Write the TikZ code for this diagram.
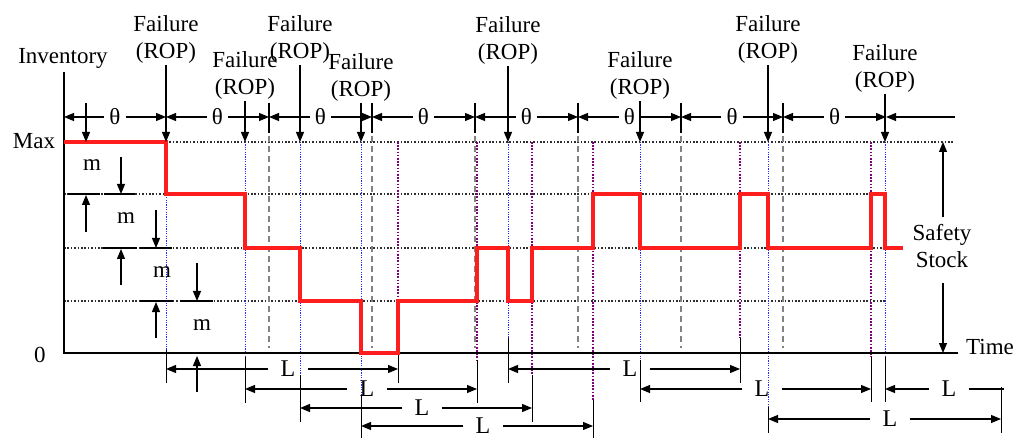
\documentclass[tikz,border=0pt]{standalone}
\usepackage{fontspec}
\setmainfont{Liberation Serif}
\usetikzlibrary{arrows.meta}

\definecolor{stockred}{RGB}{255,30,30}
\definecolor{ropblue}{RGB}{40,40,255}
\definecolor{arrpurple}{RGB}{125,0,125}
\definecolor{griddot}{RGB}{45,45,45}
\definecolor{periodgray}{RGB}{130,130,130}

\begin{document}
\begin{tikzpicture}[x=1pt,y=-1pt,
  levelline/.style={griddot, line width=1.6pt, dash pattern=on 1.6pt off 1.8pt},
  periodline/.style={periodgray, line width=1.1pt, dash pattern=on 6pt off 4pt},
  ropline/.style={ropblue, line width=1pt, dash pattern=on 1.2pt off 1.2pt},
  arrline/.style={arrpurple, line width=1.7pt, dash pattern=on 1.7pt off 1.5pt},
  extline/.style={black, line width=1pt},
  axisline/.style={black, line width=2.6pt},
  stockline/.style={stockred, line width=4pt},
  dimline/.style={black, line width=1.1pt},
  dimarrow/.style={dimline, -{Triangle[length=10pt,width=8pt]}},
  txt/.style={font=\fontsize{23}{27}\selectfont, inner sep=1pt, align=center},
  gaplabel/.style={txt, inner sep=0pt, inner xsep=5pt},
  leadlabel/.style={font=\fontsize{24}{28}\selectfont, inner sep=0pt, inner xsep=12pt}]

\useasboundingbox (0,0) rectangle (1017,438);

% inventory levels Max, Max-m, Max-2m, Max-3m
\draw[levelline] (166,142) -- (953,142);
\draw[levelline] (64,194) -- (885,194);
\draw[levelline] (64,248) -- (883,248);
\draw[levelline] (64,301) -- (885,301);

% review period boundaries
\foreach \x in {269,372,475,578,681,783} {
  \draw[periodline] (\x,136) -- (\x,348);
  \draw[dimline] (\x,103) -- (\x,133);
}

% reorder instants (blue) with their extension lines
\foreach \x/\e/\f in {166/350/383, 245/357/403, 300/375/422, 361/395/438,
                      508/338/383, 640/360/402, 768/407/433, 885/357/402} {
  \draw[ropline] (\x,142) -- (\x,\e);
  \draw[extline] (\x,\e) -- (\x,\f);
}
% order receipts (purple) with their extension lines
\foreach \x/\e/\f in {398/353/383, 477/360/403, 532/375/422, 593/400/438,
                      740/338/383, 871/357/402} {
  \draw[arrline] (\x,142) -- (\x,\e);
  \draw[extline] (\x,\e) -- (\x,\f);
}
\draw[extline] (1001,387) -- (1001,433);

% axes
\draw[axisline] (64,72) -- (64,353) -- (958,353);

% inventory on hand
\draw[stockline] (64,142) -- (166,142) -- (166,194) -- (245,194) -- (245,248)
  -- (300,248) -- (300,301) -- (361,301) -- (361,353) -- (398,353) -- (398,301)
  -- (477,301) -- (477,248) -- (508,248) -- (508,301) -- (532,301) -- (532,248)
  -- (593,248) -- (593,194) -- (640,194) -- (640,248) -- (740,248) -- (740,194)
  -- (768,194) -- (768,248) -- (871,248) -- (871,194) -- (885,194) -- (885,248)
  -- (903,248);

% step size m
\draw[dimline] (68,194) -- (100,194);  \draw[dimline] (104,194) -- (135,194);
\draw[dimline] (103,248) -- (137,248); \draw[dimline] (140,248) -- (172,248);
\draw[dimline] (140,301) -- (173,301); \draw[dimline] (180,301) -- (213,301);
\draw[dimarrow] (86,103) -- (86,142);   \draw[dimarrow] (86,232) -- (86,195);
\draw[dimarrow] (121,157) -- (121,194); \draw[dimarrow] (121,285) -- (121,249);
\draw[dimarrow] (156,210) -- (156,248); \draw[dimarrow] (156,338) -- (156,302);
\draw[dimarrow] (197,263) -- (197,301); \draw[dimarrow] (197,392) -- (197,356);
\node[txt] (m1) at (92,165) {m};
\node[txt] (m2) at (126,218) {m};
\node[txt] (m3) at (162,272) {m};
\node[txt] (m4) at (202,325) {m};

% review period theta
\foreach \a/\b [count=\i] in {64/166,166/269,269/372,372/475,475/578,578/681,681/783,783/886} {
  \node[gaplabel] (th\i) at ({(\a+\b)/2},117) {θ};
  \draw[dimarrow] (th\i.west) -- (\a,117);
  \draw[dimarrow] (th\i.east) -- (\b,117);
}
\coordinate (thend) at (955,117);
\draw[dimarrow] (thend) -- (886,117);

% failure / reorder point markers
\foreach \x/\y [count=\i] in {166/65, 245/101, 300/65, 361/103, 508/66, 640/101, 768/65, 885/94} {
  \node[txt, anchor=south] (f\i) at (\x,\y) {Failure\\(ROP)};
  \draw[dimarrow] (f\i.south) -- (\x,142);
}

% lead times L
\foreach \a/\b/\y/\lx [count=\i] in {166/398/369/288, 245/477/389/367, 300/532/408/422,
    361/593/426/483, 508/740/369/630, 640/871/389/762, 768/1001/419/890} {
  \node[leadlabel] (L\i) at (\lx,\y) {L};
  \draw[dimarrow] (L\i.west) -- (\a,\y);
  \draw[dimarrow] (L\i.east) -- (\b,\y);
}
\node[leadlabel] (L8) at (949,389) {L};
\draw[dimarrow] (L8.west) -- (885,389);
\draw[dimline] (L8.east) -- (1004,389);

% safety stock
\node[txt] (ss) at (942,246) {Safety\\Stock};
\coordinate (sstop) at (943,217);
\coordinate (ssbot) at (943,283);
\draw[dimarrow] (sstop) -- (943,142);
\draw[dimarrow] (ssbot) -- (943,353);

% axis labels
\node[txt] (inv) at (63,58) {Inventory};
\node[txt] (max) at (34,141) {Max};
\node[txt] (zero) at (40,355) {0};
\node[txt] (time) at (990,347) {Time};

\end{tikzpicture}
\end{document}
